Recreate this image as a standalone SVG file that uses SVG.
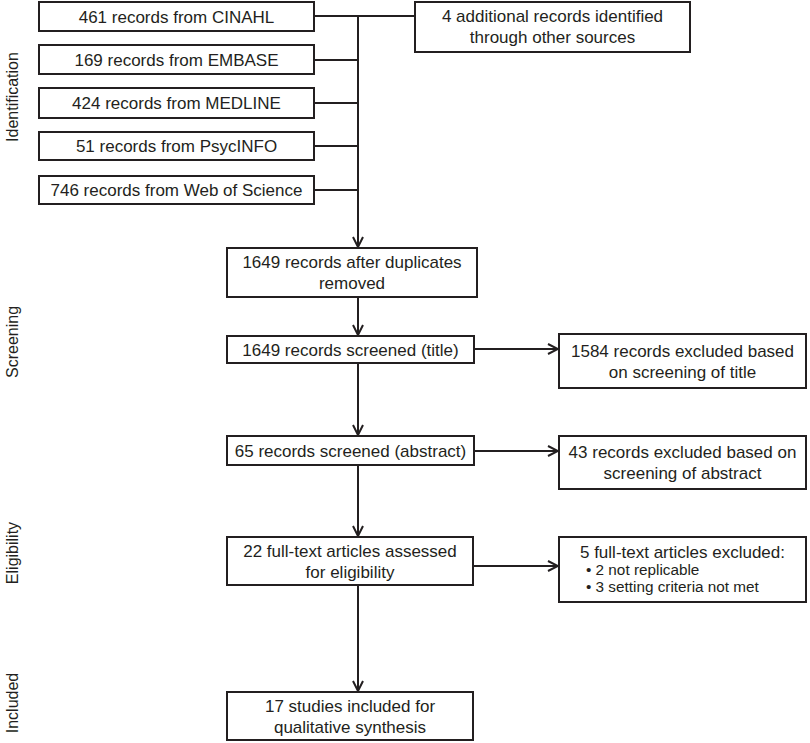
<svg xmlns="http://www.w3.org/2000/svg" width="810" height="743" viewBox="0 0 810 743">
<style>
.box{fill:#fff;stroke:#231f20;stroke-width:2}
.t{font-family:"Liberation Sans",Arial,sans-serif;font-size:17px;fill:#231f20;text-anchor:middle}
.s{font-family:"Liberation Sans",Arial,sans-serif;font-size:15.3px;fill:#231f20}
.lbl{font-family:"Liberation Sans",Arial,sans-serif;font-size:16px;fill:#231f20;text-anchor:middle}
.c{fill:none;stroke:#231f20;stroke-width:2}
</style>
<defs>
<marker id="ah" viewBox="0 0 12 12" refX="11" refY="6" markerWidth="12" markerHeight="12" markerUnits="userSpaceOnUse" orient="auto">
<polyline points="1,1 11,6 1,11" fill="none" stroke="#231f20" stroke-width="2"/>
</marker>
</defs>
<rect width="810" height="743" fill="#fff"/>
<g id="phases">
<text class="lbl" transform="translate(18,97) rotate(-90)">Identification</text>
<text class="lbl" transform="translate(18,342) rotate(-90)">Screening</text>
<text class="lbl" transform="translate(18,553) rotate(-90)">Eligibility</text>
<text class="lbl" transform="translate(18,703) rotate(-90)">Included</text>
</g>
<g id="connectors">
<polyline class="c" points="314,16 415,16"/>
<polyline class="c" points="314,60 358,60"/>
<polyline class="c" points="314,103 358,103"/>
<polyline class="c" points="314,146 358,146"/>
<polyline class="c" points="314,190 358,190"/>
<line class="c" x1="358" y1="16" x2="358" y2="247" marker-end="url(#ah)"/>
<line class="c" x1="358" y1="297" x2="358" y2="335" marker-end="url(#ah)"/>
<line class="c" x1="358" y1="363" x2="358" y2="435" marker-end="url(#ah)"/>
<line class="c" x1="358" y1="465" x2="358" y2="536" marker-end="url(#ah)"/>
<line class="c" x1="358" y1="585" x2="358" y2="691" marker-end="url(#ah)"/>
<line class="c" x1="473" y1="349" x2="558" y2="349" marker-end="url(#ah)"/>
<line class="c" x1="473" y1="451" x2="558" y2="451" marker-end="url(#ah)"/>
<line class="c" x1="473" y1="566" x2="558" y2="566" marker-end="url(#ah)"/>
</g>
<g id="cinahl"><rect class="box" x="39" y="2" width="275" height="29"/><text class="t" x="176.5" y="22.5">461 records from CINAHL</text></g>
<g id="embase"><rect class="box" x="39" y="45" width="275" height="29"/><text class="t" x="176.5" y="65.5">169 records from EMBASE</text></g>
<g id="medline"><rect class="box" x="39" y="88" width="275" height="30"/><text class="t" x="176.5" y="109">424 records from MEDLINE</text></g>
<g id="psycinfo"><rect class="box" x="39" y="132" width="275" height="28"/><text class="t" x="176.5" y="152">51 records from PsycINFO</text></g>
<g id="wos"><rect class="box" x="39" y="176" width="275" height="28"/><text class="t" x="176.5" y="196">746 records from Web of Science</text></g>
<g id="other"><rect class="box" x="415" y="2" width="275" height="50"/><text class="t" x="552.5" y="22">4 additional records identified</text><text class="t" x="552.5" y="43">through other sources</text></g>
<g id="dedup"><rect class="box" x="227" y="248" width="250" height="49"/><text class="t" x="352" y="268">1649 records after duplicates</text><text class="t" x="352" y="289">removed</text></g>
<g id="title"><rect class="box" x="227" y="336" width="247" height="27"/><text class="t" x="350.5" y="355.5">1649 records screened (title)</text></g>
<g id="excl-title"><rect class="box" x="559" y="334" width="247" height="54"/><text class="t" x="682.5" y="357">1584 records excluded based</text><text class="t" x="682.5" y="378">on screening of title</text></g>
<g id="abstract"><rect class="box" x="227" y="436" width="247" height="29"/><text class="t" x="350.5" y="456.5">65 records screened (abstract)</text></g>
<g id="excl-abstract"><rect class="box" x="559" y="436" width="247" height="53"/><text class="t" x="682.5" y="458">43 records excluded based on</text><text class="t" x="682.5" y="479">screening of abstract</text></g>
<g id="fulltext"><rect class="box" x="227" y="537" width="246" height="48"/><text class="t" x="350" y="557">22 full-text articles assessed</text><text class="t" x="350" y="578">for eligibility</text></g>
<g id="excl-fulltext"><rect class="box" x="559" y="537" width="247" height="65"/><text class="t" x="682.5" y="558">5 full-text articles excluded:</text><text class="s" x="586" y="575">• 2 not replicable</text><text class="s" x="586" y="592">• 3 setting criteria not met</text></g>
<g id="included"><rect class="box" x="227" y="692" width="246" height="48"/><text class="t" x="350" y="712">17 studies included for</text><text class="t" x="350" y="733">qualitative synthesis</text></g>
</svg>
